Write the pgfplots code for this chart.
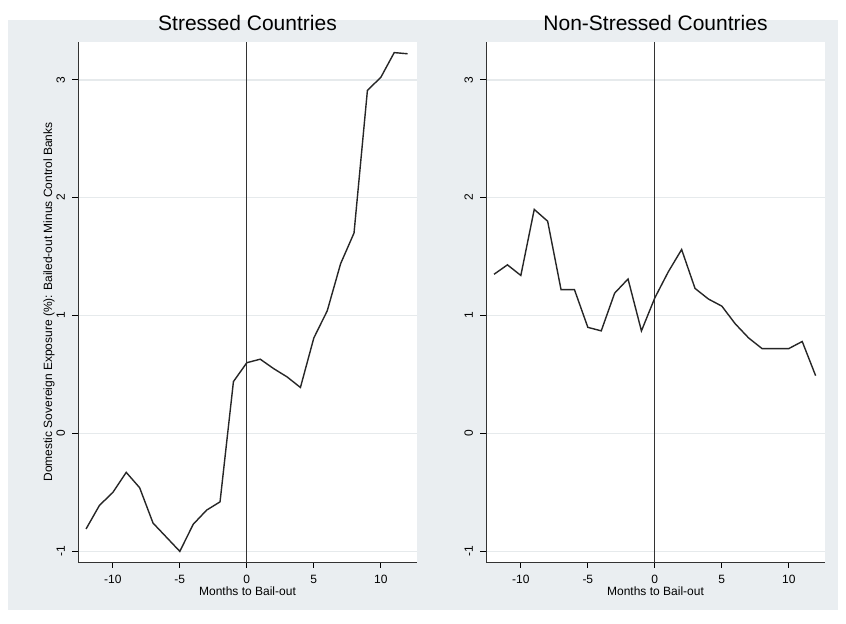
\documentclass[border=0pt]{standalone}
\usepackage{pgfplots}
\pgfplotsset{compat=1.18}
\usepackage{fontspec}
\setmainfont{Liberation Sans}
\definecolor{bg}{HTML}{EAEEF1}
\definecolor{gr}{HTML}{E6EAEC}
\pgfplotsset{
  panel/.style={
    scale only axis, width=169.5pt, height=260pt,
    xmin=-12.6, xmax=12.7, ymin=-1.09, ymax=3.32,
    axis x line*=bottom, axis y line*=left,
    axis background/.style={fill=white},
    xtick={-10,-5,0,5,10}, ytick={-1,0,1,2,3},
    ymajorgrids, grid style={gr, line width=0.8pt},
    tick style={black, thin}, tick align=outside,
    major tick length=3pt,
    tick label style={font=\fontsize{6}{7}\selectfont},
    /pgf/number format/assume math mode=true,
    yticklabel style={rotate=90, anchor=south},
    xlabel={Months to Bail-out},
    xlabel style={font=\fontsize{6}{7}\selectfont, yshift=5pt},
    title style={font=\fontsize{10.5}{12}\selectfont, yshift=-4pt},
    axis line style={black!80},
    clip=false,
  }
}
\begin{document}
\begin{tikzpicture}
\fill[white] (0,0) rectangle (423pt,312pt);
\fill[bg] (4pt,7pt) rectangle (419pt,302pt);
\begin{axis}[panel, at={(39pt,31pt)}, title={Stressed Countries},
  ylabel={Domestic Sovereign Exposure (\%): Bailed-out Minus Control Banks},
  ylabel style={font=\fontsize{6}{7}\selectfont, yshift=-6pt}]
\addplot[black!80, no marks, line width=0.5pt] coordinates {(0,-1.09) (0,3.32)};
\addplot[black!85, no marks, line width=0.7pt] coordinates {(-12,-0.81) (-11,-0.61) (-10,-0.50) (-9,-0.33) (-8,-0.46) (-7,-0.76) (-6,-0.88) (-5,-1.0) (-4,-0.77) (-3,-0.65) (-2,-0.58) (-1,0.44) (0,0.60) (1,0.63) (2,0.55) (3,0.48) (4,0.39) (5,0.81) (6,1.04) (7,1.44) (8,1.70) (9,2.91) (10,3.02) (11,3.23) (12,3.22)};
\end{axis}
\begin{axis}[panel, at={(243pt,31pt)}, title={Non-Stressed Countries}]
\addplot[black!80, no marks, line width=0.5pt] coordinates {(0,-1.09) (0,3.32)};
\addplot[black!85, no marks, line width=0.7pt] coordinates {(-12,1.35) (-11,1.43) (-10,1.34) (-9,1.90) (-8,1.80) (-7,1.22) (-6,1.22) (-5,0.90) (-4,0.87) (-3,1.19) (-2,1.31) (-1,0.87) (0,1.15) (1,1.37) (2,1.56) (3,1.23) (4,1.14) (5,1.08) (6,0.93) (7,0.81) (8,0.72) (9,0.72) (10,0.72) (11,0.78) (12,0.49)};
\end{axis}
\end{tikzpicture}
\end{document}
